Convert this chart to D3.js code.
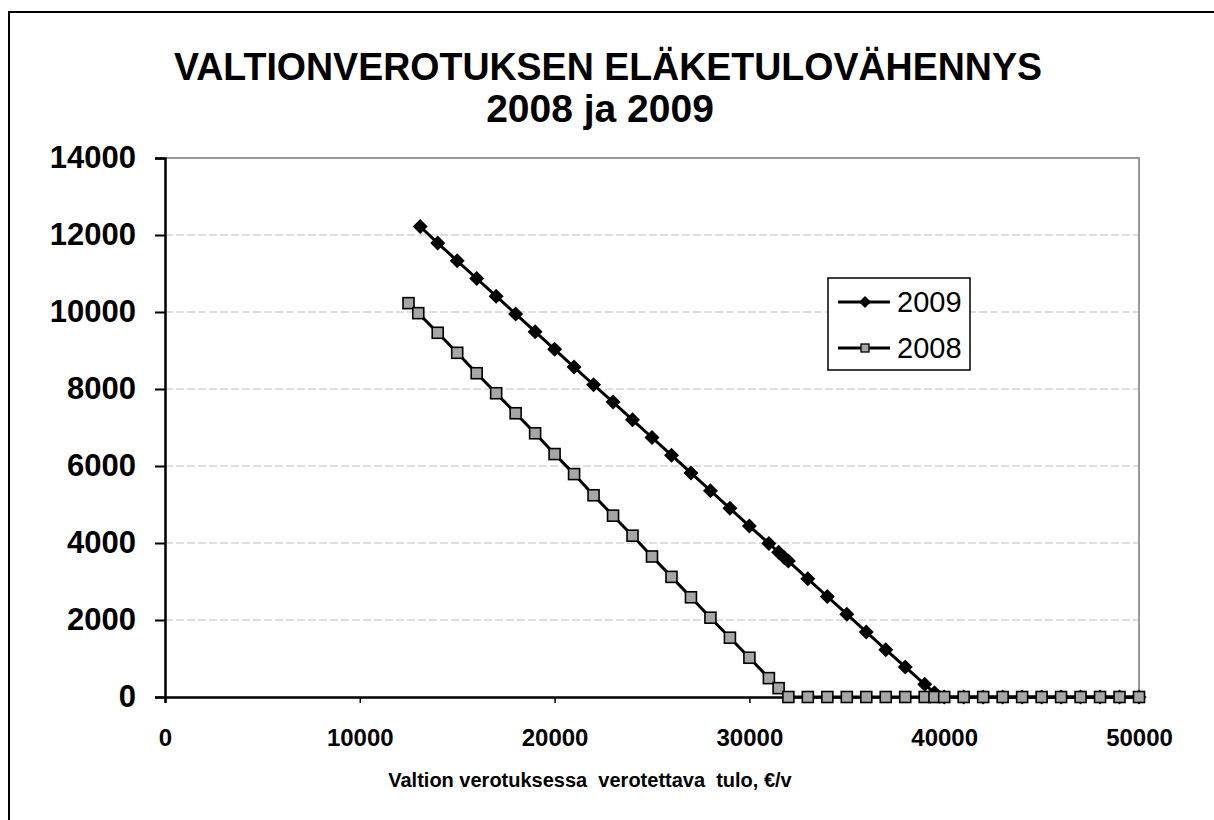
<!DOCTYPE html>
<html>
<head>
<meta charset="utf-8">
<script src="https://cdn.jsdelivr.net/npm/d3@7"></script>
<style>
  html, body { margin: 0; padding: 0; background: #fff; }
  svg { display: block; font-family: "Liberation Sans", Arial, sans-serif; }
</style>
</head>
<body>
<svg id="chart" width="1214" height="820"></svg>
<script>
const titleLines = ["VALTIONVEROTUKSEN ELÄKETULOVÄHENNYS", "2008 ja 2009"];
const xAxisTitle = "Valtion verotuksessa  verotettava  tulo, €/v";
const seriesNames = ["2009", "2008"];
const xTicks = [0, 10000, 20000, 30000, 40000, 50000];
const yTicks = [0, 2000, 4000, 6000, 8000, 10000, 12000, 14000];

const x2009 = [13100,14000,15000,16000,17000,18000,19000,20000,21000,22000,23000,24000,25000,26000,27000,28000,29000,30000,31000,31500,31800,32000,33000,34000,35000,36000,37000,38000,39000,39500,40000,41000,42000,43000,44000,45000,46000,47000,48000,49000,50000];
const y2009 = [12220,11790,11330,10870,10410,9950,9490,9030,8570,8110,7660,7200,6740,6280,5820,5360,4900,4440,3990,3760,3620,3530,3070,2610,2150,1690,1230,780,330,110,0,0,0,0,0,0,0,0,0,0,0];

const x2008 = [12500,13000,14000,15000,16000,17000,18000,19000,20000,21000,22000,23000,24000,25000,26000,27000,28000,29000,30000,31000,31500,32000,33000,34000,35000,36000,37000,38000,39000,39500,40000,41000,42000,43000,44000,45000,46000,47000,48000,49000,50000];
const y2008 = [10230,9970,9460,8940,8410,7890,7370,6850,6310,5790,5240,4710,4190,3650,3120,2590,2060,1540,1020,490,230,0,0,0,0,0,0,0,0,0,0,0,0,0,0,0,0,0,0,0,0];

const svg = d3.select("#chart");
const L = 165, R = 1139, T = 158, B = 697;
const x = d3.scaleLinear().domain([0, 50000]).range([L, R]);
const y = d3.scaleLinear().domain([0, 14000]).range([B, T]);

// outer chart border (extends beyond viewport on right/bottom)
svg.append("rect").attr("x", 9).attr("y", 12).attr("width", 1400).attr("height", 1000)
  .attr("fill", "none").attr("stroke", "#000").attr("stroke-width", 2);

// title
svg.append("text").attr("x", 608).attr("y", 80).attr("text-anchor", "middle")
  .attr("font-weight", "bold").attr("font-size", 39)
  .attr("textLength", 868).attr("lengthAdjust", "spacingAndGlyphs").text(titleLines[0]);
svg.append("text").attr("x", 600).attr("y", 122).attr("text-anchor", "middle")
  .attr("font-weight", "bold").attr("font-size", 39).text(titleLines[1]);

// gridlines
svg.append("g").selectAll("line").data(yTicks.filter(d => d > 0 && d < 14000)).join("line")
  .attr("x1", L).attr("x2", R).attr("y1", d => y(d)).attr("y2", d => y(d))
  .attr("stroke", "#d4d4d4").attr("stroke-width", 1.3).attr("stroke-dasharray", "8,3");

// plot frame (top/right gray)
svg.append("path").attr("d", `M${L},${T}H${R}V${B}`).attr("fill", "none")
  .attr("stroke", "#9a9a9a").attr("stroke-width", 2);

// axes
const yAxis = d3.axisLeft(y).tickValues(yTicks).tickSize(10).tickPadding(19).tickFormat(d3.format("d"));
const gy = svg.append("g").attr("transform", `translate(${L},0)`).call(yAxis);
gy.select(".domain").attr("stroke", "#000").attr("stroke-width", 2.5);
gy.selectAll(".tick line").attr("stroke", "#000").attr("stroke-width", 2);
gy.selectAll(".tick text").attr("font-size", 31).attr("font-weight", "bold")
  .attr("font-family", "Liberation Sans, Arial, sans-serif").attr("fill", "#000");

const xAxis = d3.axisBottom(x).tickValues(xTicks).tickSize(6).tickPadding(26).tickFormat(d3.format("d"));
const gx = svg.append("g").attr("transform", `translate(0,${B})`).call(xAxis);
gx.select(".domain").attr("stroke", "#000").attr("stroke-width", 2.5);
gx.selectAll(".tick line").attr("stroke", "#000").attr("stroke-width", 1.5);
gx.selectAll(".tick text").attr("font-size", 24).attr("font-weight", "bold")
  .attr("font-family", "Liberation Sans, Arial, sans-serif").attr("fill", "#000");

// x axis title
svg.append("text").attr("x", 590).attr("y", 787).attr("text-anchor", "middle")
  .attr("font-weight", "bold").attr("font-size", 20).attr("xml:space", "preserve")
  .style("white-space", "pre").text(xAxisTitle);

const line = d3.line().x(d => x(d[0])).y(d => y(d[1]));
const d2009 = x2009.map((v, i) => [v, y2009[i]]);
const d2008 = x2008.map((v, i) => [v, y2008[i]]);

const diamond = r => `M0,${-r}L${r},0L0,${r}L${-r},0Z`;

// 2009 series
svg.append("path").datum(d2009).attr("d", line).attr("fill", "none")
  .attr("stroke", "#000").attr("stroke-width", 3);
svg.append("g").selectAll("path").data(d2009).join("path")
  .attr("transform", d => `translate(${x(d[0])},${y(d[1])})`)
  .attr("d", diamond(7.5)).attr("fill", "#000");

// 2008 series
svg.append("path").datum(d2008).attr("d", line).attr("fill", "none")
  .attr("stroke", "#000").attr("stroke-width", 3);
svg.append("g").selectAll("rect").data(d2008).join("rect")
  .attr("x", d => x(d[0]) - 5.5).attr("y", d => y(d[1]) - 5.5)
  .attr("width", 11).attr("height", 11)
  .attr("fill", "#a6a6a6").attr("stroke", "#000").attr("stroke-width", 1.6);

// legend
const lg = svg.append("g");
lg.append("rect").attr("x", 828).attr("y", 278).attr("width", 142).attr("height", 92)
  .attr("fill", "#fff").attr("stroke", "#000").attr("stroke-width", 1.5);
const rows = [{name: seriesNames[0], cy: 302}, {name: seriesNames[1], cy: 348}];
rows.forEach((r, i) => {
  lg.append("line").attr("x1", 838).attr("x2", 890).attr("y1", r.cy).attr("y2", r.cy)
    .attr("stroke", "#000").attr("stroke-width", 3);
  if (i === 0) {
    lg.append("path").attr("transform", `translate(865,${r.cy})`).attr("d", diamond(6)).attr("fill", "#000");
  } else {
    lg.append("rect").attr("x", 861).attr("y", r.cy - 4).attr("width", 8).attr("height", 8)
      .attr("fill", "#a6a6a6").attr("stroke", "#000").attr("stroke-width", 1.3);
  }
  lg.append("text").attr("x", 897).attr("y", r.cy + 10).attr("font-size", 29).text(r.name);
});
</script>
</body>
</html>
